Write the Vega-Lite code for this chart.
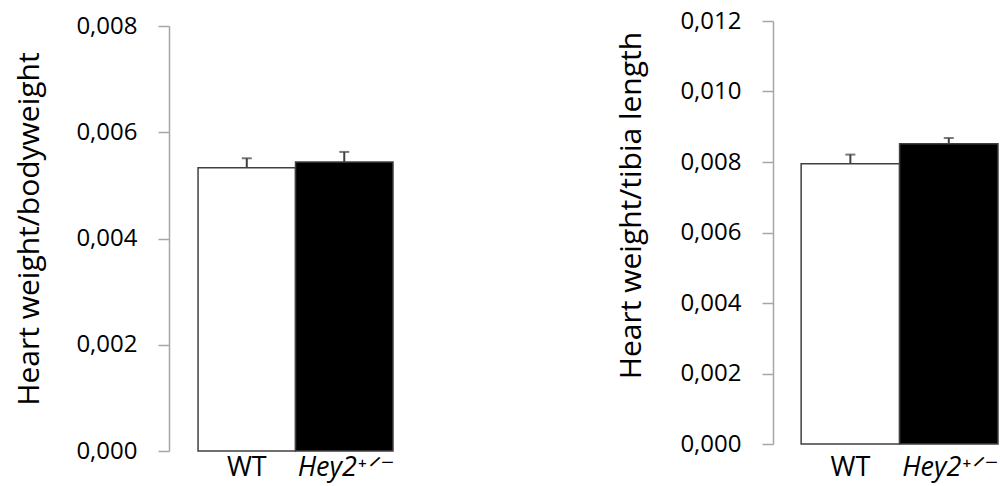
{
  "$schema": "https://vega.github.io/schema/vega-lite/v6.json",
  "background": "white",
  "padding": {"left": 13, "top": 9, "right": 0, "bottom": 12},
  "spacing": 380,
  "bounds": "flush",
  "config": {
    "view": {"stroke": null},
    "font": "Open Sans",
    "axisY": {
      "domainColor": "#a6a6a6", "domainWidth": 1.5,
      "tickColor": "#a6a6a6", "tickWidth": 1.5, "tickSize": 11,
      "labelPadding": 21, "labelFontSize": 24, "labelColor": "black", "labelFont": "Open Sans",
      "titleFontSize": 30, "titleFontWeight": "normal", "titleColor": "black", "titleFont": "Open Sans",
      "titleBaseline": "alphabetic", "titleAlign": "center", "grid": false
    },
    "axisX": {
      "domain": false, "ticks": false, "labelAngle": 0, "labelFontSize": 27,
      "labelColor": "black", "labelFont": "Open Sans", "title": null, "grid": false
    }
  },
  "hconcat": [
    {
      "width": 224,
      "height": 430,
      "data": {"values": [
        {"genotype": "WT", "mean": 0.00533, "upper": 0.00551},
        {"genotype": "Hey2+/-", "mean": 0.00544, "upper": 0.00563}
      ]},
      "encoding": {
        "x": {
          "field": "genotype", "type": "nominal", "sort": ["WT", "Hey2+/-"],
          "scale": {"paddingInner": 0, "paddingOuter": 0.149, "align": 1},
          "axis": {
            "labelPadding": 3,
            "labelExpr": "datum.value == 'WT' ? 'WT' : 'Hey2⁺ᐟ⁻'",
            "labelFontStyle": {"condition": {"test": "datum.value == 'WT'", "value": "normal"}, "value": "italic"}
          }
        }
      },
      "layer": [
        {
          "mark": {"type": "bar", "stroke": "#404040", "strokeWidth": 1.5},
          "encoding": {
            "y": {
              "field": "mean", "type": "quantitative", "title": "Heart weight/bodyweight",
              "scale": {"domain": [0, 0.008], "range": [430, 5], "nice": false, "zero": true},
              "axis": {"values": [0, 0.002, 0.004, 0.006, 0.008], "labelExpr": "replace(format(datum.value, '.3f'), '.', ',')", "titleX": -131, "titleY": 207.5}
            },
            "fill": {"field": "genotype", "type": "nominal", "scale": {"domain": ["WT", "Hey2+/-"], "range": ["white", "black"]}, "legend": null}
          }
        },
        {
          "mark": {"type": "rule", "color": "#404040", "strokeWidth": 2},
          "encoding": {
            "y": {"field": "mean", "type": "quantitative", "title": "Heart weight/bodyweight"},
            "y2": {"field": "upper"}
          }
        },
        {
          "mark": {"type": "tick", "color": "#404040", "thickness": 2, "size": 10},
          "encoding": {
            "y": {"field": "upper", "type": "quantitative", "title": "Heart weight/bodyweight"}
          }
        }
      ]
    },
    {
      "width": 225,
      "height": 423,
      "data": {"values": [
        {"genotype": "WT", "mean": 0.00795, "upper": 0.00821},
        {"genotype": "Hey2+/-", "mean": 0.00852, "upper": 0.00868}
      ]},
      "encoding": {
        "x": {
          "field": "genotype", "type": "nominal", "sort": ["WT", "Hey2+/-"],
          "scale": {"paddingInner": 0, "paddingOuter": 0.143, "align": 1},
          "axis": {
            "labelPadding": 10,
            "labelExpr": "datum.value == 'WT' ? 'WT' : 'Hey2⁺ᐟ⁻'",
            "labelFontStyle": {"condition": {"test": "datum.value == 'WT'", "value": "normal"}, "value": "italic"}
          }
        }
      },
      "layer": [
        {
          "mark": {"type": "bar", "stroke": "#404040", "strokeWidth": 1.5},
          "encoding": {
            "y": {
              "field": "mean", "type": "quantitative", "title": "Heart weight/tibia length",
              "scale": {"domain": [0, 0.012], "nice": false, "zero": true},
              "axis": {"values": [0, 0.002, 0.004, 0.006, 0.008, 0.010, 0.012], "labelExpr": "replace(format(datum.value, '.3f'), '.', ',')", "titleX": -133, "titleY": 184}
            },
            "fill": {"field": "genotype", "type": "nominal", "scale": {"domain": ["WT", "Hey2+/-"], "range": ["white", "black"]}, "legend": null}
          }
        },
        {
          "mark": {"type": "rule", "color": "#404040", "strokeWidth": 2},
          "encoding": {
            "y": {"field": "mean", "type": "quantitative", "title": "Heart weight/tibia length"},
            "y2": {"field": "upper"}
          }
        },
        {
          "mark": {"type": "tick", "color": "#404040", "thickness": 2, "size": 10},
          "encoding": {
            "y": {"field": "upper", "type": "quantitative", "title": "Heart weight/tibia length"}
          }
        }
      ]
    }
  ]
}
